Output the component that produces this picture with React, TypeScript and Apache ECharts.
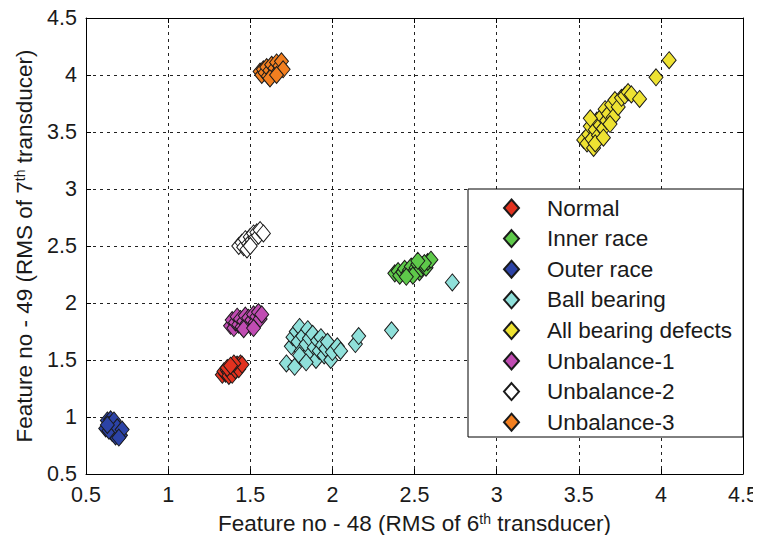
import React, { useEffect, useRef } from "react";
import * as echarts from "echarts";

const seriesNames = [
  "Normal",
  "Inner race",
  "Outer race",
  "Ball bearing",
  "All bearing defects",
  "Unbalance-1",
  "Unbalance-2",
  "Unbalance-3",
];

const seriesColors = ["#e2321f", "#5ec94a", "#2c43a6", "#8fe0da", "#eee232", "#c04cb2", "#ffffff", "#f27f20"];

const normal = [
  [1.33, 1.37], [1.35, 1.38], [1.34, 1.40], [1.36, 1.41], [1.37, 1.39], [1.38, 1.42], [1.39, 1.40],
  [1.40, 1.44], [1.41, 1.43], [1.42, 1.46], [1.43, 1.45], [1.44, 1.47], [1.37, 1.36], [1.39, 1.37],
  [1.36, 1.43], [1.41, 1.41], [1.43, 1.42], [1.45, 1.46], [1.40, 1.47], [1.38, 1.45],
];

const innerRace = [
  [2.38, 2.26], [2.40, 2.28], [2.41, 2.24], [2.43, 2.27], [2.44, 2.30], [2.46, 2.26], [2.47, 2.29],
  [2.48, 2.32], [2.50, 2.28], [2.51, 2.31], [2.52, 2.34], [2.53, 2.27], [2.54, 2.30], [2.55, 2.33],
  [2.57, 2.31], [2.58, 2.36], [2.60, 2.38], [2.56, 2.35], [2.49, 2.24], [2.45, 2.23], [2.52, 2.37],
];

const outerRace = [
  [0.63, 0.97], [0.65, 0.98], [0.64, 0.93], [0.66, 0.95], [0.62, 0.90], [0.65, 0.90], [0.67, 0.92],
  [0.68, 0.88], [0.66, 0.86], [0.69, 0.85], [0.70, 0.87], [0.71, 0.84], [0.68, 0.83], [0.64, 0.88],
  [0.67, 0.97], [0.69, 0.91], [0.72, 0.89], [0.63, 0.93], [0.70, 0.82],
];

const ballBearing = [
  [1.72, 1.47], [1.77, 1.44], [1.75, 1.62], [1.76, 1.70], [1.78, 1.75], [1.80, 1.79], [1.79, 1.66],
  [1.81, 1.58], [1.82, 1.71], [1.83, 1.52], [1.84, 1.64], [1.85, 1.77], [1.86, 1.69], [1.87, 1.56],
  [1.88, 1.73], [1.89, 1.61], [1.90, 1.50], [1.91, 1.67], [1.92, 1.58], [1.93, 1.70], [1.94, 1.63],
  [1.95, 1.54], [1.96, 1.60], [1.97, 1.66], [1.99, 1.50], [2.00, 1.57], [2.03, 1.62], [2.05, 1.58],
  [1.80, 1.54], [1.84, 1.48], [2.14, 1.64], [2.16, 1.71], [2.36, 1.76], [2.73, 2.18],
];

const allDefects = [
  [3.53, 3.43], [3.55, 3.40], [3.56, 3.48], [3.57, 3.55], [3.58, 3.44], [3.59, 3.36], [3.60, 3.52],
  [3.61, 3.60], [3.62, 3.47], [3.63, 3.56], [3.64, 3.64], [3.65, 3.53], [3.66, 3.70], [3.67, 3.60],
  [3.68, 3.66], [3.70, 3.74], [3.71, 3.63], [3.72, 3.78], [3.74, 3.72], [3.76, 3.80], [3.78, 3.82],
  [3.80, 3.85], [3.82, 3.83], [3.87, 3.79], [3.60, 3.40], [3.65, 3.45], [3.57, 3.62], [3.69, 3.57],
  [3.97, 3.98], [4.05, 4.13],
];

const unbalance1 = [
  [1.38, 1.80], [1.39, 1.85], [1.40, 1.78], [1.41, 1.83], [1.42, 1.88], [1.43, 1.81], [1.44, 1.86],
  [1.45, 1.79], [1.46, 1.84], [1.47, 1.89], [1.48, 1.82], [1.49, 1.87], [1.50, 1.80], [1.51, 1.85],
  [1.52, 1.90], [1.53, 1.83], [1.54, 1.88], [1.55, 1.92], [1.56, 1.86], [1.57, 1.90], [1.46, 1.77],
  [1.52, 1.78],
];

const unbalance2 = [
  [1.43, 2.50], [1.45, 2.53], [1.46, 2.49], [1.47, 2.56], [1.49, 2.52], [1.50, 2.58], [1.51, 2.55],
  [1.52, 2.61], [1.53, 2.57], [1.54, 2.62], [1.55, 2.59], [1.56, 2.64], [1.58, 2.61], [1.48, 2.47],
  [1.50, 2.50],
];

const unbalance3 = [
  [1.56, 4.03], [1.57, 4.00], [1.58, 4.05], [1.59, 4.02], [1.60, 4.07], [1.61, 3.99], [1.62, 4.04],
  [1.63, 4.09], [1.64, 4.01], [1.65, 4.06], [1.66, 4.11], [1.67, 4.03], [1.68, 4.08], [1.69, 4.12],
  [1.70, 4.05], [1.62, 3.97], [1.66, 4.00],
];

const seriesData = [normal, innerRace, outerRace, ballBearing, allDefects, unbalance1, unbalance2, unbalance3];

const axisMin = 0.5;
const axisMax = 4.5;
const axisStep = 0.5;

const FONT = "'Liberation Sans', Arial, Helvetica, sans-serif";

export default function App() {
  const ref = useRef<HTMLDivElement>(null);

  useEffect(() => {
    if (!ref.current) return;
    const chart = echarts.init(ref.current, undefined, { renderer: "svg" });

    const splitLine = { show: true, lineStyle: { color: "#222", type: [3, 4], width: 1 } };
    const axisLine = { show: true, lineStyle: { color: "#000", width: 1 } };
    const tick = { show: true, inside: true, length: 5, lineStyle: { color: "#000" } };
    const label = { fontFamily: FONT, fontSize: 21.5, color: "#1a1a1a" };
    const supRich = {
      sup: { fontSize: 14, fontFamily: FONT, color: "#1a1a1a", verticalAlign: "top", lineHeight: 15, padding: [0, 0, 9, 0] },
    };

    const option: any = {
      animation: false,
      backgroundColor: "#fff",
      grid: { left: 86, right: 16, top: 18, bottom: 69, containLabel: false },
      xAxis: [
        {
          type: "value",
          min: axisMin,
          max: axisMax,
          interval: axisStep,
          axisLine,
          axisTick: tick,
          splitLine,
          axisLabel: { ...label, margin: 10, formatter: (v: number) => String(v) },
          name: "Feature no - 48 (RMS of 6{sup|th} transducer)",
          nameLocation: "middle",
          nameGap: 38,
          nameTextStyle: { fontFamily: FONT, fontSize: 22.5, color: "#1a1a1a", rich: supRich },
        },
        {
          type: "value",
          position: "top",
          min: axisMin,
          max: axisMax,
          interval: axisStep,
          axisLine,
          axisTick: tick,
          splitLine: { show: false },
          axisLabel: { show: false },
        },
      ],
      yAxis: [
        {
          type: "value",
          min: axisMin,
          max: axisMax,
          interval: axisStep,
          axisLine,
          axisTick: tick,
          splitLine,
          axisLabel: { ...label, margin: 9, formatter: (v: number) => String(v) },
          name: "Feature no - 49 (RMS of 7{sup|th} transducer)",
          nameLocation: "middle",
          nameRotate: 90,
          nameGap: 46,
          nameTextStyle: { fontFamily: FONT, fontSize: 22.5, color: "#1a1a1a", rich: supRich },
        },
        {
          type: "value",
          position: "right",
          min: axisMin,
          max: axisMax,
          interval: axisStep,
          axisLine,
          axisTick: tick,
          splitLine: { show: false },
          axisLabel: { show: false },
        },
      ],
      legend: {
        orient: "vertical",
        left: 503,
        top: 196.5,
        padding: 0,
        itemWidth: 15,
        itemHeight: 17,
        itemGap: 7.6,
        icon: "diamond",
        z: 5,
        textStyle: { fontFamily: FONT, fontSize: 22.5, color: "#1a1a1a", padding: [0, 0, 0, 23] },
        data: seriesNames,
      },
      graphic: [
        {
          type: "rect",
          z: 3,
          shape: { x: 468, y: 189, width: 275, height: 248 },
          style: { fill: "#fff", stroke: "#000", lineWidth: 1 },
        },
      ],
      series: seriesNames.map((name, i) => ({
        name,
        type: "scatter",
        xAxisIndex: 0,
        yAxisIndex: 0,
        symbol: "diamond",
        symbolSize: [14, 17],
        data: seriesData[i],
        itemStyle: { color: seriesColors[i], borderColor: "#1a1a1a", borderWidth: 1, opacity: 1 },
        emphasis: { disabled: true },
      })),
    };

    chart.setOption(option);
    return () => chart.dispose();
  }, []);

  return <div ref={ref} style={{ width: 761, height: 543, margin: -8 }} />;
}
